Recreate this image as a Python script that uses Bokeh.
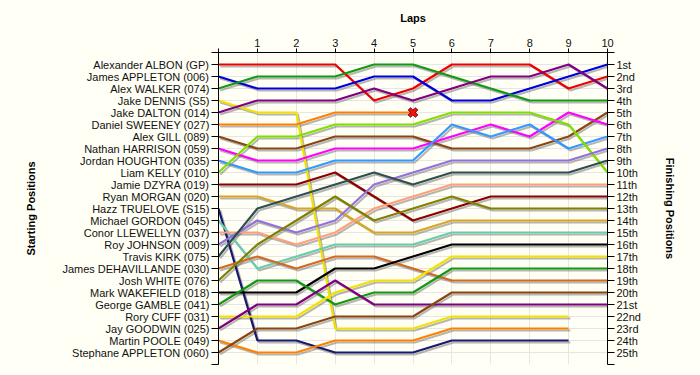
from bokeh.plotting import figure
from bokeh.models import Range1d, LinearAxis, FixedTicker
from bokeh.embed import file_html
from bokeh.resources import INLINE

laps = [0, 1, 2, 3, 4, 5, 6, 7, 8, 9, 10]
lap_labels = ["", "1", "2", "3", "4", "5", "6", "7", "8", "9", "10"]

names = [
    "Alexander ALBON (GP)", "James APPLETON (006)", "Alex WALKER (074)", "Jake DENNIS (S5)",
    "Jake DALTON (014)", "Daniel SWEENEY (027)", "Alex GILL (089)", "Nathan HARRISON (059)",
    "Jordan HOUGHTON (035)", "Liam KELLY (010)", "Jamie DZYRA (019)", "Ryan MORGAN (020)",
    "Hazz TRUELOVE (S15)", "Michael GORDON (045)", "Conor LLEWELLYN (037)", "Roy JOHNSON (009)",
    "Travis KIRK (075)", "James DEHAVILLANDE (030)", "Josh WHITE (076)", "Mark WAKEFIELD (018)",
    "George GAMBLE (041)", "Rory CUFF (031)", "Jay GOODWIN (025)", "Martin POOLE (049)",
    "Stephane APPLETON (060)",
]
finish_labels = ["1st", "2nd", "3rd", "4th", "5th", "6th", "7th", "8th", "9th", "10th",
                 "11th", "12th", "13th", "14th", "15th", "16th", "17th", "18th", "19th", "20th",
                 "21st", "22nd", "23rd", "24th", "25th"]

albon = [1, 1, 1, 1, 4, 3, 1, 1, 1, 3, 2]
j_appleton = [2, 3, 3, 3, 2, 2, 4, 4, 3, 2, 1]
walker = [3, 2, 2, 2, 1, 1, 2, 3, 4, 4, 4]
dennis = [4, 5, 5, 23, 23, 23, 22, 22, 22, 22]
dalton = [5, 4, 4, 4, 3, 4, 3, 2, 2, 1, 3]
sweeney = [6, 6, 6, 5, 5, 5]
gill = [7, 8, 8, 7, 7, 7, 8, 8, 8, 7, 5]
harrison = [8, 9, 9, 8, 8, 8, 7, 6, 7, 5, 6]
houghton = [9, 10, 10, 9, 9, 9, 6, 7, 6, 8, 7]
kelly = [10, 7, 7, 6, 6, 6, 5, 5, 5, 6, 10]
dzyra = [11, 11, 11, 10, 12, 14, 13, 12, 12, 12, 12]
morgan = [12, 12, 13, 13, 15, 15, 14, 14, 14, 14, 14]
truelove = [13, 24, 24, 25, 25, 25, 24, 24, 24, 24]
gordon = [14, 18, 17, 16, 16, 16, 15, 15, 15, 15, 15]
llewellyn = [15, 15, 16, 15, 13, 12, 11, 11, 11, 11, 11]
johnson = [16, 14, 15, 14, 11, 10, 9, 9, 9, 9, 8]
kirk = [17, 13, 12, 11, 10, 11, 10, 10, 10, 10, 9]
dehavillande = [18, 17, 18, 17, 17, 18, 19, 19, 19, 19, 19]
white = [19, 16, 14, 12, 14, 13, 12, 13, 13, 13, 13]
wakefield = [20, 20, 20, 18, 18, 17, 16, 16, 16, 16, 16]
gamble = [21, 19, 19, 21, 20, 20, 18, 18, 18, 18, 18]
cuff = [22, 22, 22, 20, 19, 19, 17, 17, 17, 17, 17]
goodwin = [23, 21, 21, 19, 21, 21, 21, 21, 21, 21, 21]
poole = [24, 25, 25, 24, 24, 24, 23, 23, 23, 23]
s_appleton = [25, 23, 23, 22, 22, 22, 20, 20, 20, 20, 20]

retired_lap = [5]
retired_pos = [5]

series = [albon, j_appleton, walker, dennis, dalton, sweeney, gill, harrison, houghton, kelly,
          dzyra, morgan, truelove, gordon, llewellyn, johnson, kirk, dehavillande, white,
          wakefield, gamble, cuff, goodwin, poole, s_appleton]

colors = ["#EE0000", "#0000DD", "#119911", "#F2E200", "#800080", "#FF8000", "#8B4513",
          "#FF00FF", "#3399FF", "#7FE000", "#8B0000", "#DAA520", "#191970", "#66CDAA",
          "#FFA07A", "#9370DB", "#2F4F4F", "#D2691E", "#808000", "#000000", "#119911",
          "#F2E200", "#800080", "#FF8000", "#8B4513"]

BG = "#FFFFF5"
FONT = "Liberation Sans"

p = figure(width=700, height=375, x_range=Range1d(0, 10), y_range=Range1d(26, 0),
           x_axis_location="above", output_backend="svg", toolbar_location=None,
           min_border_left=218, min_border_right=93, min_border_top=52, min_border_bottom=11)
p.background_fill_color = BG
p.border_fill_color = BG
p.outline_line_color = None

# top axis (laps)
xa = p.xaxis[0]
xa.ticker = FixedTicker(ticks=laps)
xa.major_label_overrides = {l: s for l, s in zip(laps, lap_labels)}
xa.axis_label = "Laps"

# left axis (starting positions)
ya = p.yaxis[0]
ya.ticker = FixedTicker(ticks=list(range(0, 27)))
ya.major_label_overrides = {i: "" for i in (0, 26)} | {i + 1: n for i, n in enumerate(names)}
ya.axis_label = "Starting Positions"

# right axis (finishing positions)
ra = LinearAxis(ticker=FixedTicker(ticks=list(range(0, 27))))
ra.major_label_overrides = {i: "" for i in (0, 26)} | {i + 1: n for i, n in enumerate(finish_labels)}
ra.axis_label = "Finishing Positions"
p.add_layout(ra, "right")

for ax in (xa, ya, ra):
    ax.axis_line_color = "black"
    ax.axis_line_width = 1
    ax.major_tick_line_color = "black"
    ax.minor_tick_line_color = None
    ax.major_tick_in = 0
    ax.major_label_text_font = FONT
    ax.major_label_text_font_size = "11px"
    ax.major_label_text_color = "#111111"
    ax.axis_label_text_font = FONT
    ax.axis_label_text_font_size = "11px"
    ax.axis_label_text_font_style = "bold"
    ax.axis_label_text_color = "black"

xa.major_tick_out = 4
xa.major_label_standoff = 2
xa.axis_label_standoff = 12
ya.major_tick_out = 7
ya.major_label_standoff = 2
ya.axis_label_standoff = 22
ra.major_tick_out = 7
ra.major_label_standoff = 2
ra.axis_label_standoff = 20

p.xgrid.ticker = FixedTicker(ticks=laps[1:])
p.ygrid.ticker = FixedTicker(ticks=list(range(1, 26)))
p.grid.grid_line_color = "#E6E6E6"
p.grid.grid_line_width = 1

# shadows (offset a couple of pixels down-right)
dx, dy = 0.045, 0.16
for s in series:
    xs = laps[:len(s)]
    p.line([x + dx for x in xs], [y + dy for y in s], line_color="#6E6E6E",
           line_alpha=0.5, line_width=2)

for s, c in zip(series, colors):
    p.line(laps[:len(s)], s, line_color=c, line_width=2.2)

p.scatter(retired_lap, retired_pos, marker="x", size=11, line_color="#5A0000", line_width=4)
p.scatter(retired_lap, retired_pos, marker="x", size=10, line_color="#FF1010", line_width=2.5)

open("out.html", "w").write(file_html(p, INLINE))
